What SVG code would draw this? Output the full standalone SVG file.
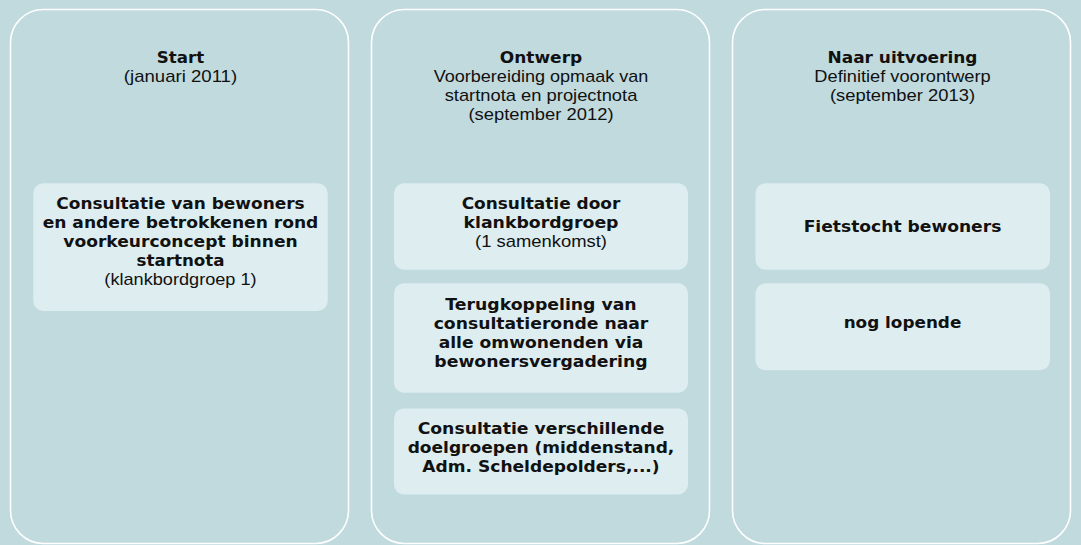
<svg xmlns="http://www.w3.org/2000/svg" width="1081" height="545" viewBox="0 0 1081 545">
<style>
.panel{fill:#c0dade;stroke:#ffffff;stroke-width:1.6}
.box{fill:#deedef}
.b{font-family:"DejaVu Sans","Liberation Sans",sans-serif;font-weight:bold;font-size:16px;fill:#111;text-anchor:middle}
.r{font-family:"Liberation Sans Narrow","Liberation Sans",sans-serif;font-size:17px;fill:#111;text-anchor:middle}
</style>
<rect x="0" y="0" width="1081" height="545" fill="#c0dade"/>
<g id="connectors"></g>
<g id="start">
<rect class="panel" x="10.5" y="9.5" width="338" height="534" rx="33"/>
<text class="b" x="180.5" y="63" textLength="47.3" lengthAdjust="spacingAndGlyphs">Start</text>
<text class="r" x="180.5" y="82" textLength="113.3" lengthAdjust="spacingAndGlyphs">(januari 2011)</text>
</g>
<g id="start-consultatie">
<rect class="box" x="33.3" y="183.2" width="294.4" height="127.8" rx="10"/>
<text class="b" x="180.5" y="208.5" textLength="248.3" lengthAdjust="spacingAndGlyphs">Consultatie van bewoners</text>
<text class="b" x="180.5" y="227.5" textLength="275.7" lengthAdjust="spacingAndGlyphs">en andere betrokkenen rond</text>
<text class="b" x="180.5" y="246.5" textLength="234.3" lengthAdjust="spacingAndGlyphs">voorkeurconcept binnen</text>
<text class="b" x="180.5" y="265.5" textLength="88" lengthAdjust="spacingAndGlyphs">startnota</text>
<text class="r" x="180.5" y="284.5" textLength="152.3" lengthAdjust="spacingAndGlyphs">(klankbordgroep 1)</text>
</g>
<g id="ontwerp">
<rect class="panel" x="371.5" y="9.5" width="338" height="534" rx="33"/>
<text class="b" x="541" y="63" textLength="82.3" lengthAdjust="spacingAndGlyphs">Ontwerp</text>
<text class="r" x="541" y="82" textLength="214.7" lengthAdjust="spacingAndGlyphs">Voorbereiding opmaak van</text>
<text class="r" x="541" y="101" textLength="192.7" lengthAdjust="spacingAndGlyphs">startnota en projectnota</text>
<text class="r" x="541" y="120" textLength="145" lengthAdjust="spacingAndGlyphs">(september 2012)</text>
</g>
<g id="ontwerp-klankbord">
<rect class="box" x="394" y="183.2" width="294" height="86.5" rx="10"/>
<text class="b" x="541" y="209" textLength="158.7" lengthAdjust="spacingAndGlyphs">Consultatie door</text>
<text class="b" x="541" y="228" textLength="155" lengthAdjust="spacingAndGlyphs">klankbordgroep</text>
<text class="r" x="541" y="247" textLength="132" lengthAdjust="spacingAndGlyphs">(1 samenkomst)</text>
</g>
<g id="ontwerp-terugkoppeling">
<rect class="box" x="394" y="283.3" width="294" height="109.5" rx="10"/>
<text class="b" x="541" y="309.5" textLength="191.3" lengthAdjust="spacingAndGlyphs">Terugkoppeling van</text>
<text class="b" x="541" y="328.5" textLength="214.7" lengthAdjust="spacingAndGlyphs">consultatieronde naar</text>
<text class="b" x="541" y="347.5" textLength="204.7" lengthAdjust="spacingAndGlyphs">alle omwonenden via</text>
<text class="b" x="541" y="366.5" textLength="213.3" lengthAdjust="spacingAndGlyphs">bewonersvergadering</text>
</g>
<g id="ontwerp-doelgroepen">
<rect class="box" x="394" y="408.4" width="294" height="86" rx="10"/>
<text class="b" x="541" y="433.5" textLength="246.7" lengthAdjust="spacingAndGlyphs">Consultatie verschillende</text>
<text class="b" x="541" y="452.5" textLength="266.7" lengthAdjust="spacingAndGlyphs">doelgroepen (middenstand,</text>
<text class="b" x="541" y="471.5" textLength="237.3" lengthAdjust="spacingAndGlyphs">Adm. Scheldepolders,...)</text>
</g>
<g id="uitvoering">
<rect class="panel" x="732.5" y="9.5" width="338" height="534" rx="33"/>
<text class="b" x="902.5" y="63" textLength="150" lengthAdjust="spacingAndGlyphs">Naar uitvoering</text>
<text class="r" x="902.5" y="82" textLength="176.3" lengthAdjust="spacingAndGlyphs">Definitief voorontwerp</text>
<text class="r" x="902.5" y="101" textLength="145" lengthAdjust="spacingAndGlyphs">(september 2013)</text>
</g>
<g id="uitvoering-fietstocht">
<rect class="box" x="755.5" y="183.2" width="294.5" height="86.5" rx="10"/>
<text class="b" x="902.5" y="232" textLength="197.7" lengthAdjust="spacingAndGlyphs">Fietstocht bewoners</text>
</g>
<g id="uitvoering-lopende">
<rect class="box" x="755.5" y="283.3" width="294.5" height="86.9" rx="10"/>
<text class="b" x="902.5" y="328" textLength="117.7" lengthAdjust="spacingAndGlyphs">nog lopende</text>
</g>
</svg>
